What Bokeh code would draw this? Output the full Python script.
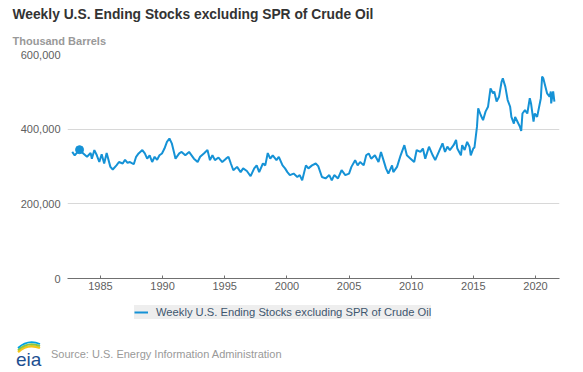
from bokeh.plotting import figure
from bokeh.models import (Range1d, FixedTicker, NumeralTickFormatter, Legend, LegendItem,
                          Title, ColumnDataSource, Div)
from bokeh.layouts import column
from bokeh.embed import file_html
from bokeh.resources import INLINE

# ---- data (decimal year, thousand barrels) ----
years = [
    1982.73, 1982.93, 1983.32, 1983.62, 1983.92, 1984.21, 1984.31, 1984.51, 1984.71, 1984.91,
    1985.10, 1985.30, 1985.50, 1985.80, 1985.99, 1986.29, 1986.49, 1986.79, 1986.98, 1987.18,
    1987.38, 1987.68, 1987.87, 1988.07, 1988.37, 1988.57, 1988.76, 1988.96, 1989.16, 1989.36,
    1989.56, 1989.75, 1989.95, 1990.15, 1990.35, 1990.55, 1990.74, 1990.94, 1991.04, 1991.34,
    1991.53, 1991.83, 1992.13, 1992.33, 1992.52, 1992.82, 1993.02, 1993.32, 1993.61, 1993.81,
    1994.01, 1994.21, 1994.50, 1994.80, 1995.10, 1995.30, 1995.49, 1995.69, 1995.99, 1996.28,
    1996.48, 1996.78, 1997.08, 1997.37, 1997.57, 1997.77, 1998.07, 1998.26, 1998.46, 1998.66,
    1998.86, 1999.16, 1999.35, 1999.65, 1999.85, 2000.04, 2000.24, 2000.54, 2000.84, 2001.03,
    2001.23, 2001.53, 2001.73, 2002.02, 2002.32, 2002.52, 2002.82, 2003.11, 2003.41, 2003.61,
    2003.81, 2004.11, 2004.40, 2004.70, 2005.00, 2005.19, 2005.49, 2005.69, 2005.89, 2006.18,
    2006.38, 2006.58, 2006.78, 2007.08, 2007.37, 2007.57, 2007.77, 2007.97, 2008.16, 2008.46,
    2008.56, 2008.86, 2009.15, 2009.45, 2009.65, 2009.95, 2010.24, 2010.44, 2010.74, 2010.94,
    2011.13, 2011.43, 2011.73, 2011.93, 2012.22, 2012.52, 2012.72, 2012.91, 2013.11, 2013.41,
    2013.61, 2013.71, 2014.00, 2014.10, 2014.30, 2014.50, 2014.69, 2014.79, 2014.99, 2015.09,
    2015.29, 2015.39, 2015.59, 2015.78, 2015.98, 2016.18, 2016.38, 2016.58, 2016.68, 2016.87,
    2017.07, 2017.27, 2017.37, 2017.57, 2017.76, 2017.96, 2018.06, 2018.26, 2018.36, 2018.55,
    2018.75, 2018.85, 2018.95, 2019.15, 2019.34, 2019.54, 2019.64, 2019.84, 2019.94, 2020.13,
    2020.43, 2020.53, 2020.63, 2020.93, 2021.13, 2021.23, 2021.26, 2021.42, 2021.52,
]
stocks = [
    339, 330, 345, 335, 326, 336, 321, 344, 330, 312,
    333, 308, 336, 299, 292, 303, 312, 308, 318, 310,
    312, 306, 326, 335, 344, 335, 321, 330, 312, 326,
    318, 330, 335, 348, 366, 375, 362, 335, 321, 335,
    339, 330, 339, 330, 321, 312, 326, 335, 344, 317,
    330, 317, 324, 312, 321, 326, 308, 290, 299, 285,
    295, 288, 274, 295, 303, 285, 308, 303, 336, 321,
    330, 317, 326, 303, 295, 285, 277, 281, 272, 277,
    263, 303, 295, 303, 308, 301, 272, 268, 277, 263,
    277, 268, 290, 277, 281, 299, 317, 303, 312, 303,
    330, 335, 321, 330, 312, 339, 317, 295, 281, 303,
    285, 299, 330, 357, 330, 321, 312, 344, 339, 348,
    321, 353, 330, 317, 339, 362, 339, 353, 344, 357,
    371, 348, 330, 357, 344, 366, 353, 330, 348, 351,
    406, 456, 438, 424, 447, 460, 509, 496, 501, 474,
    487, 527, 536, 514, 478, 460, 433, 415, 433, 420,
    406, 395, 442, 451, 442, 483, 469, 420, 442, 433,
    483, 541, 536, 496, 487, 501, 469, 501, 474,
]
stocks = [v * 1000 for v in stocks]

highlight_year = [1983.32]
highlight_value = [345000]

y_ticks = [0, 200000, 400000, 600000]
x_ticks = [1985, 1990, 1995, 2000, 2005, 2010, 2015, 2020]

series_name = "Weekly U.S. Ending Stocks excluding SPR of Crude Oil"
title_text = "Weekly U.S. Ending Stocks excluding SPR of Crude Oil"
subtitle_text = "Thousand Barrels"
source_text = "Source: U.S. Energy Information Administration"

FONT = "Liberation Sans"
BLUE = "#1592d6"

p = figure(width=583, height=296, output_backend="svg", toolbar_location=None,
           x_range=Range1d(1982.35, 2021.93), y_range=Range1d(0, 600000),
           min_border_left=67, min_border_right=24, min_border_top=0, min_border_bottom=18)
p.outline_line_color = None
p.background_fill_color = "white"
p.border_fill_color = "white"

# titles
p.title.text = title_text
p.title.text_font = FONT
p.title.text_font_size = "13.8px"
p.title.text_font_style = "bold"
p.title.text_color = "#333333"
p.title.align = "left"
p.title.offset = -55
p.title.standoff = 8

sub = Title(text=subtitle_text, text_font=FONT, text_font_size="11px", text_font_style="bold",
            text_color="#999999", align="left", offset=-55, standoff=15)
p.add_layout(sub, "above")

src = ColumnDataSource(dict(x=years, y=stocks))
line = p.line("x", "y", source=src, line_color=BLUE, line_width=2)
p.scatter(highlight_year, highlight_value, size=8, color=BLUE)

# axes
p.yaxis.ticker = FixedTicker(ticks=y_ticks)
p.yaxis.formatter = NumeralTickFormatter(format="0,0")
p.yaxis.axis_line_color = None
p.yaxis.major_tick_line_color = None
p.yaxis.major_tick_in = 0
p.yaxis.major_tick_out = 0
p.yaxis.minor_tick_line_color = None
p.yaxis.minor_tick_in = 0
p.yaxis.minor_tick_out = 0
p.yaxis.major_label_standoff = 7
p.yaxis.major_label_text_font = FONT
p.yaxis.major_label_text_font_size = "11px"
p.yaxis.major_label_text_color = "#606060"

p.xaxis.ticker = FixedTicker(ticks=x_ticks)
p.xaxis.axis_line_color = "#707070"
p.xaxis.axis_line_width = 1
p.xaxis.major_tick_line_color = "#707070"
p.xaxis.major_tick_in = 3
p.xaxis.major_tick_out = 0
p.xaxis.minor_tick_line_color = None
p.xaxis.major_label_standoff = 3
p.xaxis.major_label_text_font = FONT
p.xaxis.major_label_text_font_size = "11px"
p.xaxis.major_label_text_color = "#606060"

p.xgrid.grid_line_color = None
p.ygrid.ticker = FixedTicker(ticks=y_ticks)
p.ygrid.grid_line_color = "#d8d8d8"
p.ygrid.grid_line_width = 1

# legend strip (frame aligned with the chart frame)
lf = figure(width=583, height=26, output_backend="svg", toolbar_location=None,
            x_range=Range1d(-10, -9), y_range=Range1d(-10, -9),
            min_border_left=67, min_border_right=24, min_border_top=0, min_border_bottom=0)
lf.outline_line_color = None
lf.grid.visible = False
lf.xaxis.visible = False
lf.yaxis.visible = False
leg_line = lf.line("x", "y", source=src, line_color=BLUE, line_width=2)
legend = Legend(items=[LegendItem(label=series_name, renderers=[leg_line])],
                orientation="horizontal", location=(67, 3),
                background_fill_color="#eeeeee", background_fill_alpha=1.0,
                border_line_color=None, label_text_font=FONT, label_text_font_size="11.2px",
                label_text_color="#3e576f", glyph_width=14, glyph_height=14,
                label_standoff=8, padding=5, margin=0, label_height=13)
lf.add_layout(legend, "center")

# footer: eia logo + source
logo_svg = (
    '<svg width="32" height="30" viewBox="0 0 32 30" overflow="visible" '
    'style="position:absolute;left:9px;top:12px;overflow:visible">'
    '<path d="M4 13 Q14 4 26 9" stroke="#f5c518" stroke-width="2.4" fill="none"/>'
    '<path d="M4 11 Q14 2 26 7" stroke="#8dc63f" stroke-width="2.0" fill="none"/>'
    '<path d="M4 9 Q14 0 26 5" stroke="#00a3e0" stroke-width="1.8" fill="none"/>'
    '<text x="2" y="27" font-family="Liberation Serif" font-size="19" fill="#1d4f91">eia</text>'
    '</svg>'
)
footer = Div(width=583, height=48, text=(
    '<div style="position:relative;width:583px;height:48px;">' + logo_svg +
    '<span style="position:absolute;left:46px;top:20px;font-family:\'Liberation Sans\';'
    'font-size:11px;color:#999999;white-space:nowrap;">' + source_text + '</span></div>'))

layout = column(p, lf, footer, spacing=0)
open("out.html", "w").write(file_html(layout, INLINE))
